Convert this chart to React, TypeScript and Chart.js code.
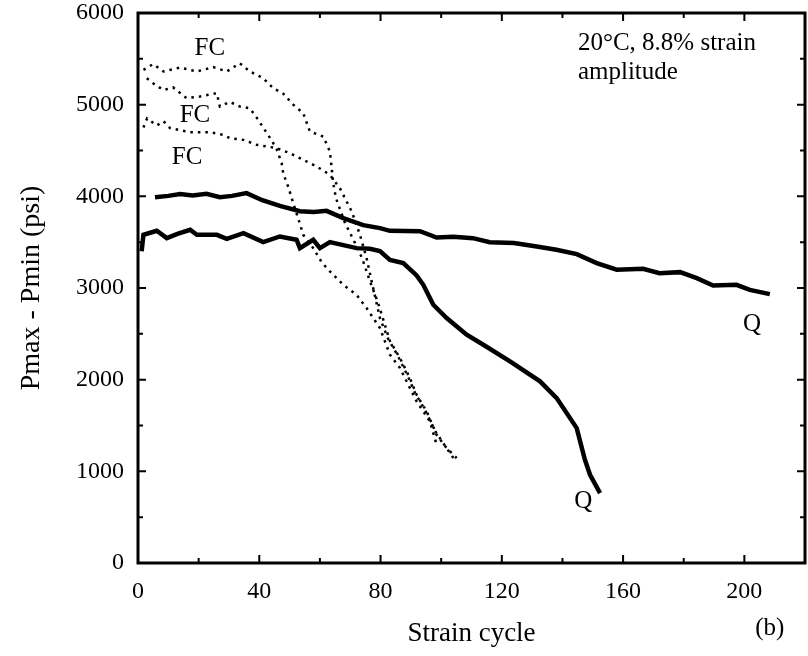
import React, { useEffect, useRef } from "react";
import { Chart, registerables } from "chart.js";

Chart.register(...registerables);

const FONT = "'Liberation Serif', 'DejaVu Serif', 'Times New Roman', serif";

// Tick labels
const xTickLabels = [0, 40, 80, 120, 160, 200];
const xMinorTicks = [20, 60, 100, 140, 180];
const yTickLabels = [0, 1000, 2000, 3000, 4000, 5000, 6000];
const yMinorTicks = [500, 1500, 2500, 3500, 4500, 5500];

// Upper Q curve (solid)
const q1X = [5.6, 10, 13.9, 18, 22.6, 27, 31, 35.8, 41, 46.8, 53.4, 58, 62.2, 67.7, 74.3, 79.8, 83.1, 93, 98.5, 104, 110.5, 116, 124, 131.5, 138, 144.7, 151.3, 157.9, 166.6, 172, 178.8, 184.3, 189.7, 197.4, 201.8, 208.4];
const q1Y = [3991, 4005, 4024, 4010, 4027, 3991, 4005, 4035, 3958, 3896, 3838, 3830, 3842, 3762, 3686, 3653, 3624, 3620, 3551, 3560, 3544, 3500, 3490, 3453, 3417, 3370, 3272, 3199, 3210, 3162, 3173, 3108, 3028, 3035, 2980, 2933];

// Lower Q curve (solid)
const q2X = [1.2, 1.8, 6.2, 9.5, 13, 17.2, 19.4, 26, 29.3, 34.8, 41.3, 46.8, 52.3, 53.4, 57.8, 60, 63.3, 72.1, 76.5, 79.8, 83.1, 87.5, 91.9, 94.1, 97.4, 101.8, 108.4, 113.9, 122.7, 132.6, 138.1, 144.7, 147.4, 149.1, 152.4];
const q2Y = [3400, 3580, 3624, 3544, 3590, 3635, 3580, 3580, 3537, 3599, 3500, 3562, 3526, 3435, 3526, 3435, 3500, 3435, 3427, 3402, 3307, 3271, 3137, 3035, 2817, 2672, 2490, 2381, 2200, 1982, 1799, 1472, 1127, 963, 763];

// Top FC curve (dotted)
const fc1X = [1.8, 5, 8.4, 13.9, 19.4, 24.8, 29.3, 33.6, 36.9, 41.3, 44.6, 47.9, 51.2, 54.5, 56.7, 61.1, 63.3, 64.4, 65.3, 68.3, 71.6, 73.9, 76.5, 79.2, 83.1, 86.4, 89.7, 91.9, 95.2, 98.5, 101.8, 105.1];
const fc1Y = [5380, 5442, 5362, 5405, 5362, 5409, 5362, 5452, 5362, 5289, 5180, 5120, 5000, 4907, 4707, 4652, 4489, 4144, 3980, 3708, 3490, 3326, 3075, 2835, 2421, 2236, 2017, 1835, 1654, 1399, 1254, 1145];

// Middle FC curve (dotted)
const fc2X = [2.9, 5.5, 8.4, 11.6, 16, 20.4, 26, 27, 30.3, 33.6, 36.9, 39.1, 41.3, 43.5, 45.7, 47.4, 47.9, 49.6, 50.7, 53.4, 54.5, 57.8, 60.6, 63.3, 67.7, 72.1, 75.4, 79.8, 83.1, 86.4, 89.7, 91.9, 96.3, 98.5];
const fc2Y = [5289, 5220, 5160, 5188, 5071, 5089, 5125, 4980, 5030, 4980, 4960, 4860, 4750, 4640, 4520, 4360, 4250, 4100, 3980, 3700, 3580, 3435, 3280, 3181, 3035, 2926, 2781, 2563, 2272, 2127, 1908, 1763, 1545, 1290];

// Bottom FC curve (dotted)
const fc3X = [1.8, 3, 6.2, 8.4, 10.6, 17.2, 23.7, 28.1, 30.3, 34.8, 39.1, 42.4, 45.7, 50.1, 54.5, 58.9, 63.3, 66.6, 68.8, 70.5, 73.2, 75.4, 77.2, 79.8, 82.4, 85.8, 89, 91.4, 94.7, 98, 101.3, 104.5];
const fc3Y = [4751, 4850, 4773, 4820, 4744, 4700, 4700, 4671, 4635, 4616, 4562, 4544, 4526, 4471, 4398, 4326, 4235, 4089, 3944, 3835, 3580, 3326, 3053, 2672, 2453, 2254, 2039, 1854, 1668, 1440, 1276, 1123];

// Text annotations (in data coordinates)
const noteTexts = ["FC", "FC", "FC", "20°C, 8.8% strain", "amplitude", "Q", "Q", "(b)"];
const noteX = [23.7, 18.8, 16.2, 145.1, 145.1, 202.5, 146.9, 208.4];
const noteY = [5618, 4887, 4429, 5673, 5356, 2607, 669, -709];
const noteAlign: CanvasTextAlign[] = ["center", "center", "center", "left", "left", "center", "center", "center"];

const toPts = (xs: number[], ys: number[]) => xs.map((x, i) => ({ x, y: ys[i] }));

const framePlugin = {
  id: "frameTicks",
  afterDraw(chart: any) {
    const { ctx, chartArea } = chart;
    const { left, right, top, bottom } = chartArea;
    const xs = chart.scales.x;
    const ys = chart.scales.y;
    ctx.save();
    ctx.strokeStyle = "#000";
    ctx.lineWidth = 3;
    ctx.strokeRect(left, top, right - left, bottom - top);
    ctx.lineWidth = 2;
    const drawX = (vals: number[], len: number) => {
      vals.forEach((v) => {
        const px = xs.getPixelForValue(v);
        ctx.beginPath();
        ctx.moveTo(px, bottom);
        ctx.lineTo(px, bottom - len);
        ctx.moveTo(px, top);
        ctx.lineTo(px, top + len);
        ctx.stroke();
      });
    };
    const drawY = (vals: number[], len: number) => {
      vals.forEach((v) => {
        const py = ys.getPixelForValue(v);
        ctx.beginPath();
        ctx.moveTo(left, py);
        ctx.lineTo(left + len, py);
        ctx.moveTo(right, py);
        ctx.lineTo(right - len, py);
        ctx.stroke();
      });
    };
    drawX(xTickLabels, 8);
    drawX(xMinorTicks, 5);
    drawY(yTickLabels, 8);
    drawY(yMinorTicks, 5);

    ctx.fillStyle = "#000";
    ctx.textBaseline = "middle";
    noteTexts.forEach((t, i) => {
      ctx.font = `25px ${FONT}`;
      ctx.textAlign = noteAlign[i];
      ctx.fillText(t, xs.getPixelForValue(noteX[i]), ys.getPixelForValue(noteY[i]));
    });
    ctx.restore();
  },
};

export default function App() {
  const ref = useRef<HTMLCanvasElement | null>(null);
  useEffect(() => {
    if (!ref.current) return;
    const solid = { borderColor: "#000", borderWidth: 4.5, pointRadius: 0, tension: 0, fill: false };
    const dotted = { borderColor: "#000", borderWidth: 2.5, borderDash: [2.5, 5], pointRadius: 0, tension: 0, fill: false };
    const chart = new Chart(ref.current, {
      type: "line",
      data: {
        datasets: [
          { label: "Q upper", data: toPts(q1X, q1Y), ...solid },
          { label: "Q lower", data: toPts(q2X, q2Y), ...solid },
          { label: "FC top", data: toPts(fc1X, fc1Y), ...dotted },
          { label: "FC middle", data: toPts(fc2X, fc2Y), ...dotted },
          { label: "FC bottom", data: toPts(fc3X, fc3Y), ...dotted },
        ] as any,
      },
      options: {
        animation: false,
        responsive: false,
        parsing: false as any,
        layout: { padding: { top: 13, right: 3, left: 0, bottom: 0 } },
        plugins: { legend: { display: false }, tooltip: { enabled: false } },
        scales: {
          x: {
            type: "linear",
            min: 0,
            max: 220,
            afterBuildTicks: (s: any) => {
              s.ticks = xTickLabels.map((v) => ({ value: v }));
            },
            afterFit: (s: any) => {
              s.height = 93;
              s.paddingLeft = 0;
              s.paddingRight = 0;
            },
            grid: { display: false, drawTicks: false },
            border: { display: false },
            ticks: { padding: 14, color: "#000", font: { family: FONT, size: 24 }, maxRotation: 0, autoSkip: false, callback: (v: any) => String(v) },
            title: { display: true, text: "Strain cycle", color: "#000", font: { family: FONT, size: 27 }, padding: { top: 0, bottom: 6 } },
          },
          y: {
            type: "linear",
            min: 0,
            max: 6000,
            afterBuildTicks: (s: any) => {
              s.ticks = yTickLabels.map((v) => ({ value: v }));
            },
            afterFit: (s: any) => {
              s.width = 138;
              s.paddingTop = 0;
              s.paddingBottom = 0;
            },
            grid: { display: false, drawTicks: false },
            border: { display: false },
            ticks: { padding: 14, color: "#000", font: { family: FONT, size: 24 }, autoSkip: false, callback: (v: any) => String(v) },
            title: { display: true, text: "Pmax - Pmin (psi)", color: "#000", font: { family: FONT, size: 28 }, padding: { top: 15, bottom: 0 } },
          },
        },
      },
      plugins: [framePlugin],
    });
    return () => chart.destroy();
  }, []);
  return (
    <div style={{ position: "fixed", left: 0, top: 0, width: 808, height: 656, background: "#fff" }}>
      <canvas ref={ref} width={808} height={656} />
    </div>
  );
}
